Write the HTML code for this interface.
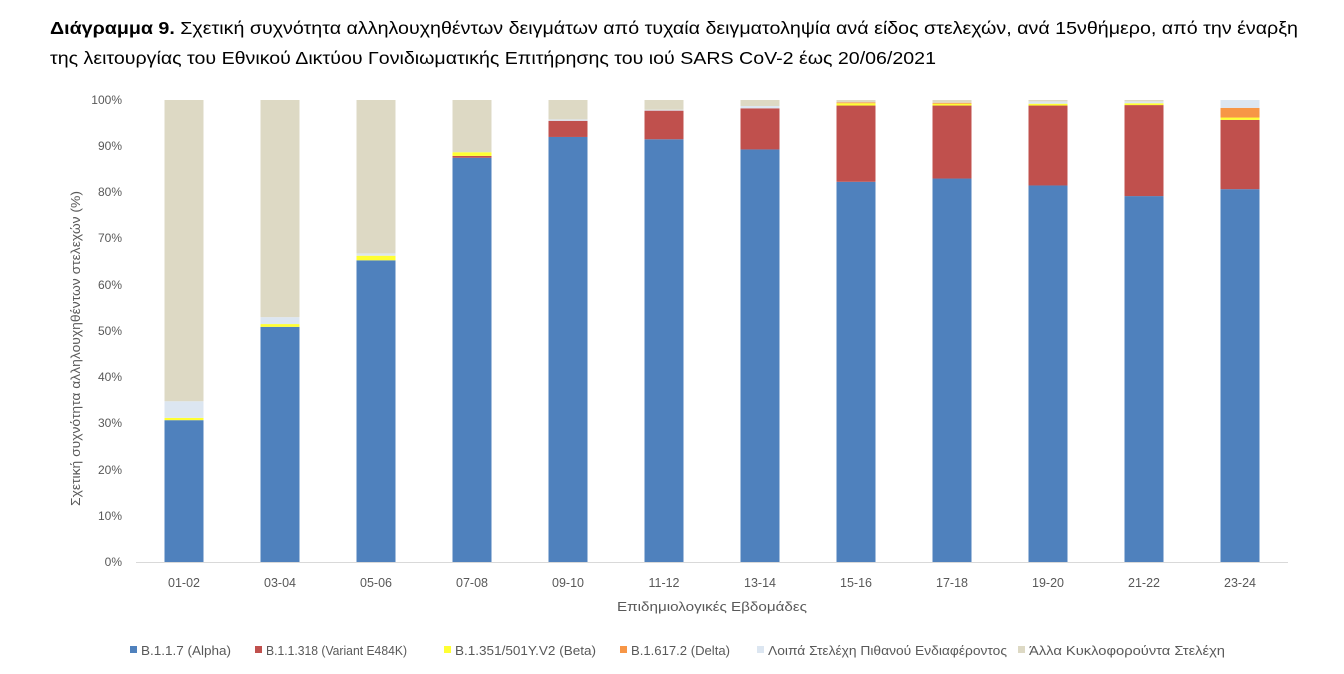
<!DOCTYPE html>
<html><head><meta charset="utf-8"><style>
body{margin:0;background:#fff;}
svg{display:block;font-family:"Liberation Sans",sans-serif;}
</style></head><body>
<svg width="1344" height="674" viewBox="0 0 1344 674" xmlns="http://www.w3.org/2000/svg">
<text x="50" y="34" font-size="17.5" fill="#000" textLength="1248" lengthAdjust="spacingAndGlyphs"><tspan font-weight="bold">Διάγραμμα 9.</tspan> Σχετική συχνότητα αλληλουχηθέντων δειγμάτων από τυχαία δειγματοληψία ανά είδος στελεχών, ανά 15νθήμερο, από την έναρξη</text>
<text x="50" y="64" font-size="17.5" fill="#000" textLength="886" lengthAdjust="spacingAndGlyphs">της λειτουργίας του Εθνικού Δικτύου Γονιδιωματικής Επιτήρησης του ιού SARS CoV-2 έως 20/06/2021</text>
<g font-size="12" fill="#595959" text-anchor="end">
<text x="122" y="104">100%</text><text x="122" y="150">90%</text><text x="122" y="196">80%</text><text x="122" y="242">70%</text><text x="122" y="289">60%</text><text x="122" y="335">50%</text><text x="122" y="381">40%</text><text x="122" y="427">30%</text><text x="122" y="474">20%</text><text x="122" y="520">10%</text><text x="122" y="566">0%</text>
</g>
<line x1="136" y1="562.5" x2="1288" y2="562.5" stroke="#d9d9d9" stroke-width="1"/>
<text transform="translate(80,506) rotate(-90)" font-size="12.5" fill="#595959" textLength="315" lengthAdjust="spacingAndGlyphs">Σχετική συχνότητα αλληλουχηθέντων στελεχών (%)</text>
<text x="617" y="611" font-size="13" fill="#595959" textLength="190" lengthAdjust="spacingAndGlyphs">Επιδημιολογικές Εβδομάδες</text>
<g id="bars"></g>
<g font-size="12.5" fill="#595959" text-anchor="middle" id="xl"></g>
<g font-size="12.5" fill="#595959" lengthAdjust="spacingAndGlyphs">
<rect x="130" y="646" width="7" height="7" fill="#4f81bd"/><text x="141" y="655" textLength="90" lengthAdjust="spacingAndGlyphs">B.1.1.7 (Alpha)</text>
<rect x="255" y="646" width="7" height="7" fill="#c0504d"/><text x="266" y="655" textLength="141" lengthAdjust="spacingAndGlyphs">B.1.1.318 (Variant E484K)</text>
<rect x="444" y="646" width="7" height="7" fill="#ffff33"/><text x="455" y="655" textLength="141" lengthAdjust="spacingAndGlyphs">B.1.351/501Y.V2 (Beta)</text>
<rect x="620" y="646" width="7" height="7" fill="#f79646"/><text x="631" y="655" textLength="99" lengthAdjust="spacingAndGlyphs">B.1.617.2 (Delta)</text>
<rect x="757" y="646" width="7" height="7" fill="#dce6f1"/><text x="768" y="655" textLength="239" lengthAdjust="spacingAndGlyphs">Λοιπά Στελέχη Πιθανού Ενδιαφέροντος</text>
<rect x="1018" y="646" width="7" height="7" fill="#ddd9c4"/><text x="1029" y="655" textLength="196" lengthAdjust="spacingAndGlyphs">Άλλα Κυκλοφορούντα Στελέχη</text>
</g>
</svg>
<script>
var data=[
["01-02",30.7,0,0.5,0,3.6],["03-04",50.9,0,0.6,0,1.5],["05-06",65.3,0,1.0,0,0.5],
["07-08",87.5,0.4,0.8,0,0],["09-10",92,3.5,0,0,0.3],["11-12",91.5,6.2,0,0,0.2],
["13-14",89.3,8.9,0,0,0.5],["15-16",82.3,16.5,0.5,0.2,0],["17-18",83,15.8,0.4,0.2,0],
["19-20",81.5,17.3,0.4,0,0.5],["21-22",79.2,19.7,0.4,0,0.4],["23-24",80.7,15,0.5,2.1,1.7]];
var cols=["#4f81bd","#c0504d","#ffff33","#f79646","#dce6f1","#ddd9c4"];
var ns="http://www.w3.org/2000/svg",g=document.getElementById("bars"),xl=document.getElementById("xl");
data.forEach(function(d,i){
 var cx=184+96*i,acc=0,vals=d.slice(1);var s=vals.reduce(function(a,b){return a+b},0);vals.push(Math.max(0,100-s));
 vals.forEach(function(v,k){if(v<=0)return;var r=document.createElementNS(ns,"rect");
  var y1=562-4.62*(acc+v),y0=562-4.62*acc;r.setAttribute("x",cx-19.5);r.setAttribute("width",39);
  r.setAttribute("y",y1);r.setAttribute("height",y0-y1);r.setAttribute("fill",cols[k]);g.appendChild(r);acc+=v;});
 var t=document.createElementNS(ns,"text");t.setAttribute("x",cx);t.setAttribute("y",587);t.textContent=d[0];xl.appendChild(t);
});
</script>
</body></html>
